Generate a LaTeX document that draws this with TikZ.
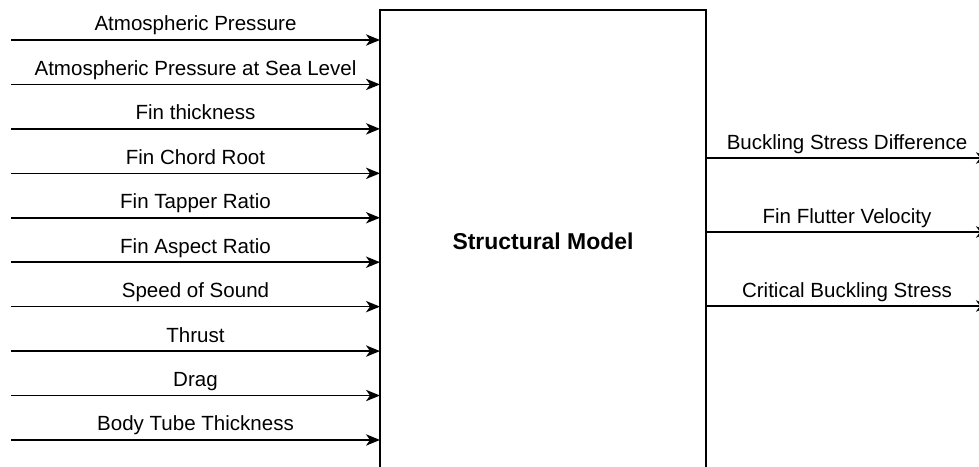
\documentclass[tikz,border=0pt]{standalone}
\usepackage{fontspec}
\setmainfont{Liberation Sans}
\usetikzlibrary{arrows.meta}
\begin{document}
\begin{tikzpicture}[x=0.75pt,y=-0.75pt,
  flow/.style={draw=black, line width=1.15pt,
    -{Stealth[length=10.5pt,width=8.5pt,inset=3pt]}},
  lbl/.style={anchor=base, inner sep=0pt, font=\fontsize{15.4}{18}\selectfont},
  block/.style={draw=black, line width=1.15pt, minimum width=244.5pt,
    minimum height=346.5pt, inner sep=0pt, outer sep=0pt,
    font=\bfseries\fontsize{17.2}{20}\selectfont}]
\useasboundingbox (0,0) rectangle (979,467);

% central block
\node[block] (model) at (543,241) {Structural Model};

% inputs on the left
\foreach \i/\t in {0/Atmospheric Pressure,
                   1/Atmospheric Pressure at Sea Level,
                   2/Fin thickness,
                   3/Fin Chord Root,
                   4/Fin Tapper Ratio,
                   5/Fin Aspect Ratio,
                   6/Speed of Sound,
                   7/Thrust,
                   8/Drag,
                   9/Body Tube Thickness} {
  \coordinate (in\i) at (11,40+44.44*\i);
  \draw[flow] (in\i) -- (in\i -| model.west);
  \node[lbl] (lin\i) at (195.5,31+44.44*\i) {\t};
}

% outputs on the right
\foreach \i/\t in {0/Buckling Stress Difference,
                   1/Fin Flutter Velocity,
                   2/Critical Buckling Stress} {
  \coordinate (out\i) at (990,158+74*\i);
  \draw[flow] (out\i -| model.east) -- (out\i);
  \node[lbl] (lout\i) at (847,149+74*\i) {\t};
}
\end{tikzpicture}
\end{document}
